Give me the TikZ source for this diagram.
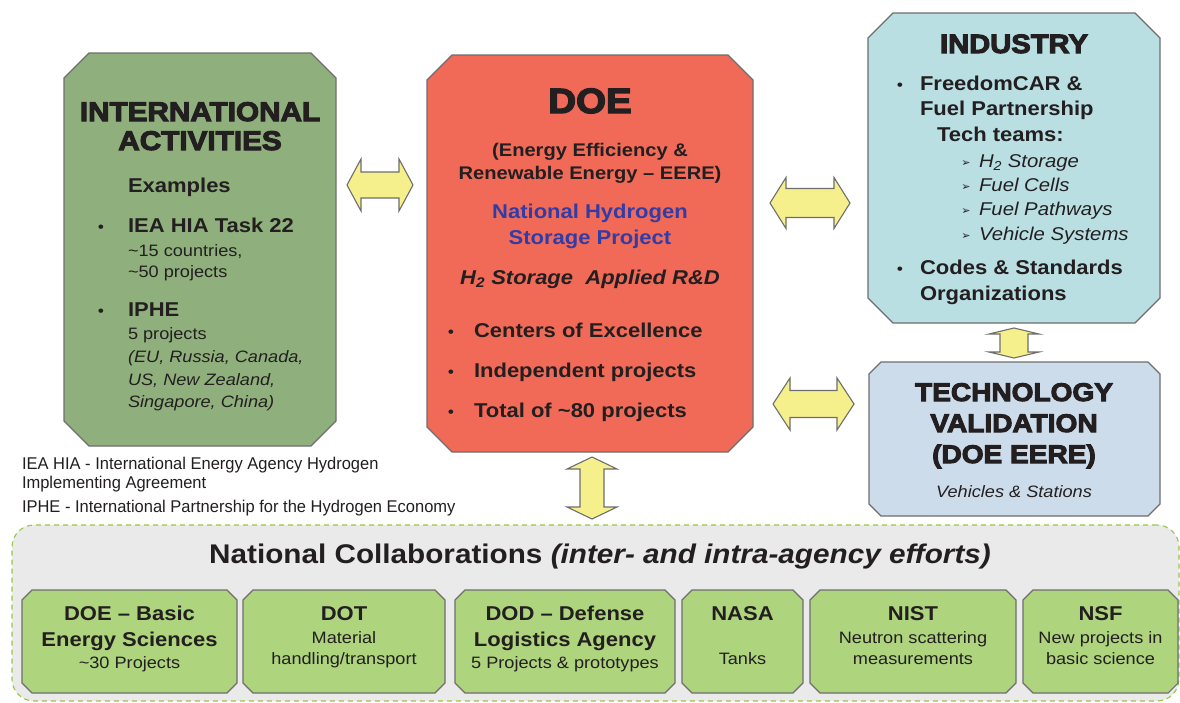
\documentclass[tikz,border=0pt]{standalone}
\usepackage{fontspec}
\setmainfont{Liberation Sans}[FakeStretch=1.1]
\newfontfamily\heavyfont{Liberation Sans}[FakeStretch=1.1, BoldFeatures={FakeBold=4}]
\newfontfamily\narrowfont{Liberation Sans}[FakeStretch=0.97]
\newfontfamily\dingfont{DejaVu Sans}
\usetikzlibrary{calc}

\definecolor{ink}{RGB}{35,31,32}
\definecolor{intlgreen}{RGB}{143,176,124}
\definecolor{doered}{RGB}{241,106,88}
\definecolor{indblue}{RGB}{186,223,227}
\definecolor{tvblue}{RGB}{205,220,234}
\definecolor{colgreen}{RGB}{174,212,126}
\definecolor{arrowyellow}{RGB}{245,240,140}
\definecolor{dashgreen}{RGB}{150,200,70}
\definecolor{panelgrey}{RGB}{234,234,234}
\definecolor{navy}{RGB}{51,60,165}
\definecolor{edge}{RGB}{110,110,110}

\tikzset{
  frame/.style={inner sep=0, outer sep=0, draw=none},
  boxline/.style={draw=edge, line width=1.1pt},
  arrowstyle/.style={draw=edge, line width=1.1pt, fill=arrowyellow, line join=miter},
  lbl/.style={inner sep=0, outer sep=0, text=ink},
  txthv/.style={lbl, font=\heavyfont\bfseries\fontsize{#1}{#1}\selectfont},
  txtbf/.style={lbl, font=\bfseries\fontsize{#1}{#1}\selectfont},
  txtrg/.style={lbl, font=\fontsize{#1}{#1}\selectfont},
  txtit/.style={lbl, font=\itshape\fontsize{#1}{#1}\selectfont},
  txtbi/.style={lbl, font=\bfseries\itshape\fontsize{#1}{#1}\selectfont},
  txtnar/.style={lbl, font=\narrowfont\fontsize{#1}{#1}\selectfont},
}

% box outline with cut corners around a named frame node
\newcommand\chamferbox[3]{%
  \draw[boxline, fill=#3]
    ($(#1.north west)+(#2,0)$) -- ($(#1.north east)+(-#2,0)$) --
    ($(#1.north east)+(0,#2)$) -- ($(#1.south east)+(0,-#2)$) --
    ($(#1.south east)+(-#2,0)$) -- ($(#1.south west)+(#2,0)$) --
    ($(#1.south west)+(0,-#2)$) -- ($(#1.north west)+(0,#2)$) -- cycle;}

% two-headed block arrow: name, centre, rotation, half length, half shaft, half head, head length
\newcommand\blockarrow[7]{%
  \coordinate (#1) at (#2);
  \begin{scope}[shift={(#2)}, rotate=#3]
    \draw[arrowstyle] (-#4,0) -- ({-#4+#7},-#6) -- ({-#4+#7},-#5) -- ({#4-#7},-#5) --
      ({#4-#7},-#6) -- (#4,0) -- ({#4-#7},#6) -- ({#4-#7},#5) -- ({-#4+#7},#5) --
      ({-#4+#7},#6) -- cycle;
  \end{scope}}

\begin{document}
\begin{tikzpicture}[x=1pt, y=-1pt]
\useasboundingbox (0,0) rectangle (1180,702);
\fill[white] (0,0) rectangle (1180,702);

% ---------- frames ----------
\node[frame, minimum width=272, minimum height=393] (intl) at (200,249.5) {};
\node[frame, minimum width=326, minimum height=397] (doe) at (590,253.5) {};
\node[frame, minimum width=292, minimum height=310] (ind) at (1014,168) {};
\node[frame, minimum width=291, minimum height=154] (tv) at (1014.5,439) {};

\chamferbox{intl}{25}{intlgreen}
\chamferbox{doe}{25}{doered}
\chamferbox{ind}{25}{indblue}
\chamferbox{tv}{12}{tvblue}

% ---------- national collaborations panel ----------
\node[frame, minimum width=1167, minimum height=176, rounded corners=22,
      draw=dashgreen, line width=1.1pt, dash pattern=on 5pt off 4pt, fill=panelgrey]
      (coll) at (595.5,613) {};

\node[frame, minimum width=215, minimum height=103] (bes) at (129.5,641.5) {};
\node[frame, minimum width=202, minimum height=103] (dot) at (344,641.5) {};
\node[frame, minimum width=220, minimum height=103] (dod) at (565,641.5) {};
\node[frame, minimum width=121, minimum height=103] (nasa) at (742.5,641.5) {};
\node[frame, minimum width=206, minimum height=103] (nist) at (913,641.5) {};
\node[frame, minimum width=155, minimum height=103] (nsf) at (1100.5,641.5) {};
\foreach \b in {bes,dot,dod,nasa,nist,nsf} {\chamferbox{\b}{10}{colgreen}}

% ---------- block arrows ----------
\blockarrow{aIntlDoe}{380,185}{0}{33}{13}{26}{14}
\blockarrow{aDoeInd}{810,203}{0}{40}{14.5}{25.5}{16}
\blockarrow{aDoeTv}{813.5,404}{0}{40.5}{13.5}{26}{17}
\blockarrow{aIndTv}{1014,343}{90}{15}{14}{25}{6}
\blockarrow{aDoeColl}{592,488}{90}{31}{12}{25}{12}

% ---------- international activities ----------
\node[txthv=27, anchor=base] (intlT1) at (200,121) {INTERNATIONAL};
\node[txthv=27, anchor=base] (intlT2) at (200,150) {ACTIVITIES};
\node[txtbf=20, anchor=base west] (intlEx) at (128,192) {Examples};
\node[txtrg=16, anchor=base] (intlB1) at (101,232) {•};
\node[txtbf=20, anchor=base west] (intlIea) at (128,232) {IEA HIA Task 22};
\node[txtrg=16.5, anchor=base west] (intlIea1) at (128,256) {\textasciitilde15 countries,};
\node[txtrg=16.5, anchor=base west] (intlIea2) at (128,277) {\textasciitilde50 projects};
\node[txtrg=16, anchor=base] (intlB2) at (101,316) {•};
\node[txtbf=20, anchor=base west] (intlIphe) at (128,316) {IPHE};
\node[txtrg=16.5, anchor=base west] (intlIphe1) at (128,339) {5 projects};
\node[txtit=16.5, anchor=base west] (intlIphe2) at (128,362) {(EU, Russia, Canada,};
\node[txtit=16.5, anchor=base west] (intlIphe3) at (128,385) {US, New Zealand,};
\node[txtit=16.5, anchor=base west] (intlIphe4) at (128,407) {Singapore, China)};

% ---------- DOE ----------
\node[txthv=35, anchor=base] (doeT) at (590,113) {DOE};
\node[txtbf=18.3, anchor=base] (doeE1) at (590,156) {(Energy Efficiency \&};
\node[txtbf=18.3, anchor=base] (doeE2) at (590,179) {Renewable Energy – EERE)};
\node[txtbf=20, anchor=base, text=navy] (doeN1) at (590,218) {National Hydrogen};
\node[txtbf=20, anchor=base, text=navy] (doeN2) at (590,244) {Storage Project};
\node[txtbi=20, anchor=base] (doeRD) at (590,284) {H\textsubscript{2} Storage\ \ Applied R\&D};
\node[txtrg=16, anchor=base] (doeB1) at (451,337) {•};
\node[txtbf=20, anchor=base west] (doeC1) at (474,337) {Centers of Excellence};
\node[txtrg=16, anchor=base] (doeB2) at (451,377) {•};
\node[txtbf=20, anchor=base west] (doeC2) at (474,377) {Independent projects};
\node[txtrg=16, anchor=base] (doeB3) at (451,417) {•};
\node[txtbf=20, anchor=base west] (doeC3) at (474,417) {Total of \textasciitilde80 projects};

% ---------- industry ----------
\node[txthv=26.5, anchor=base] (indT) at (1014,53) {INDUSTRY};
\node[txtrg=16, anchor=base] (indB1) at (900,90) {•};
\node[txtbf=20, anchor=base west] (indF1) at (920,90) {FreedomCAR \&};
\node[txtbf=20, anchor=base west] (indF2) at (920,115) {Fuel Partnership};
\node[txtbf=20, anchor=base west] (indF3) at (937,141) {Tech teams:};
\foreach \y/\t [count=\i] in {167/H\textsubscript{2} Storage, 191/Fuel Cells, 215/Fuel Pathways, 240/Vehicle Systems} {
  \node[lbl, font=\dingfont\fontsize{11}{11}\selectfont, anchor=base] (indS\i) at (966,\y-1) {➢};
  \node[txtit=18.5, anchor=base west] (indI\i) at (979,\y) {\t};
}
\node[txtrg=16, anchor=base] (indB2) at (900,274) {•};
\node[txtbf=20, anchor=base west] (indC1) at (920,274) {Codes \& Standards};
\node[txtbf=20, anchor=base west] (indC2) at (920,300) {Organizations};

% ---------- technology validation ----------
\node[txthv=25.5, anchor=base] (tvT1) at (1014,401) {TECHNOLOGY};
\node[txthv=25.5, anchor=base] (tvT2) at (1014,432) {VALIDATION};
\node[txthv=25.5, anchor=base] (tvT3) at (1014,463) {(DOE EERE)};
\node[txtit=16.5, anchor=base] (tvV) at (1014,497) {Vehicles \& Stations};

% ---------- abbreviations ----------
\node[txtnar=17, anchor=base west] (noteA1) at (22,469) {IEA HIA - International Energy Agency Hydrogen};
\node[txtnar=17, anchor=base west] (noteA2) at (22,488) {Implementing Agreement};
\node[txtnar=17, anchor=base west] (noteB) at (22,512) {IPHE - International Partnership for the Hydrogen Economy};

% ---------- national collaborations ----------
\node[txtbf=27, anchor=base] (collT) at (600,563) {National Collaborations \textit{(inter- and intra-agency efforts)}};

\node[txtbf=20, anchor=base] (besT1) at (129.5,620) {DOE – Basic};
\node[txtbf=20, anchor=base] (besT2) at (129.5,646) {Energy Sciences};
\node[txtrg=16.5, anchor=base] (besS) at (129.5,668) {\textasciitilde30 Projects};

\node[txtbf=20, anchor=base] (dotT) at (344,620) {DOT};
\node[txtrg=16.5, anchor=base] (dotS1) at (344,643) {Material};
\node[txtrg=16.5, anchor=base] (dotS2) at (344,664) {handling/transport};

\node[txtbf=20, anchor=base] (dodT1) at (565,620) {DOD – Defense};
\node[txtbf=20, anchor=base] (dodT2) at (565,646) {Logistics Agency};
\node[txtrg=16.5, anchor=base] (dodS) at (565,668) {5 Projects \& prototypes};

\node[txtbf=20, anchor=base] (nasaT) at (742.5,620) {NASA};
\node[txtrg=16.5, anchor=base] (nasaS) at (742.5,664) {Tanks};

\node[txtbf=20, anchor=base] (nistT) at (913,620) {NIST};
\node[txtrg=16.5, anchor=base] (nistS1) at (913,643) {Neutron scattering};
\node[txtrg=16.5, anchor=base] (nistS2) at (913,664) {measurements};

\node[txtbf=20, anchor=base] (nsfT) at (1100.5,620) {NSF};
\node[txtrg=16.5, anchor=base] (nsfS1) at (1100.5,643) {New projects in};
\node[txtrg=16.5, anchor=base] (nsfS2) at (1100.5,664) {basic science};
\end{tikzpicture}
\end{document}
